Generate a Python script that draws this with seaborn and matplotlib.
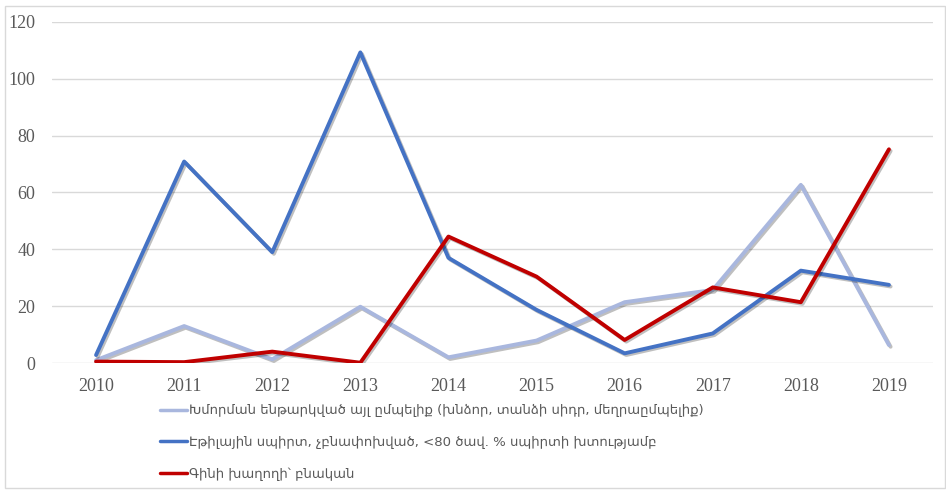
import numpy as np
import pandas as pd
import seaborn as sns
import matplotlib.pyplot as plt
import matplotlib.patheffects as pe

years = ['2010', '2011', '2012', '2013', '2014', '2015', '2016', '2017', '2018', '2019']

s_light = 'Խմորման ենթարկված այլ ըմպելիք (խնձոր, տանձի սիդր, մեղրաըմպելիք)'
s_blue = 'Էթիլային սպիրտ, չբնափոխված, <80 ծավ. % սպիրտի խտությամբ'
s_red = 'Գինի խաղողի՝ բնական'

light_vals = [1, 13, 1.3, 19.8, 2, 7.9, 21.4, 25.7, 62.7, 6.3]
blue_vals = [2.8, 70.9, 39, 109.3, 37, 18.7, 3.4, 10.4, 32.5, 27.5]
red_vals = [0.5, 0.3, 4, 0.1, 44.5, 30.4, 8.1, 26.6, 21.4, 75.2]

df = pd.DataFrame({
    'year': years * 3,
    'value': light_vals + blue_vals + red_vals,
    'series': [s_light] * 10 + [s_blue] * 10 + [s_red] * 10,
})

palette = {s_light: '#A9B7DE', s_blue: '#4472C4', s_red: '#C00000'}

sns.set_style('white')
plt.rcParams['font.family'] = ['DejaVu Sans']

fig = plt.figure(figsize=(9.46, 4.9), dpi=100)
ax = fig.add_axes([52 / 946, 1 - 363 / 490, (933 - 52) / 946, (363 - 22) / 490])

sns.lineplot(data=df, x='year', y='value', hue='series', palette=palette,
             linewidth=2.8, ax=ax, sort=False)

for ln in ax.lines:
    ln.set_path_effects([pe.SimpleLineShadow(offset=(1.2, -1.2), alpha=0.25), pe.Normal()])
    ln.set_solid_capstyle('round')

ax.set_xlim(-0.5, 9.5)
ax.set_ylim(0, 120)
ax.set_yticks(range(0, 121, 20))
ax.grid(axis='y', color='#D9D9D9', linewidth=1)
ax.set_axisbelow(True)
for sp in ax.spines.values():
    sp.set_visible(False)
ax.tick_params(length=0, colors='#595959', labelsize=13)
ax.tick_params(axis='x', pad=11)
ax.tick_params(axis='y', pad=12)
for lab in ax.get_xticklabels() + ax.get_yticklabels():
    lab.set_family('Liberation Serif')
ax.set_xlabel('')
ax.set_ylabel('')

handles, labels = ax.get_legend_handles_labels()
ax.get_legend().remove()
for h in handles:
    h.set_linewidth(2.5)
    h.set_path_effects([])
leg = fig.legend(handles, labels, loc='upper left', bbox_to_anchor=(155 / 946, 1 - 399 / 490),
                 frameon=False, fontsize=9.5, handlelength=2.0, handletextpad=0.2,
                 labelspacing=1.4, borderaxespad=0)
for t in leg.get_texts():
    t.set_color('#595959')

fig.patches.append(plt.Rectangle((5 / 946, 2 / 490), 940 / 946, 482 / 490, transform=fig.transFigure,
                                 fill=False, edgecolor='#D9D9D9', linewidth=1))

fig.savefig('out.png', dpi=100)
